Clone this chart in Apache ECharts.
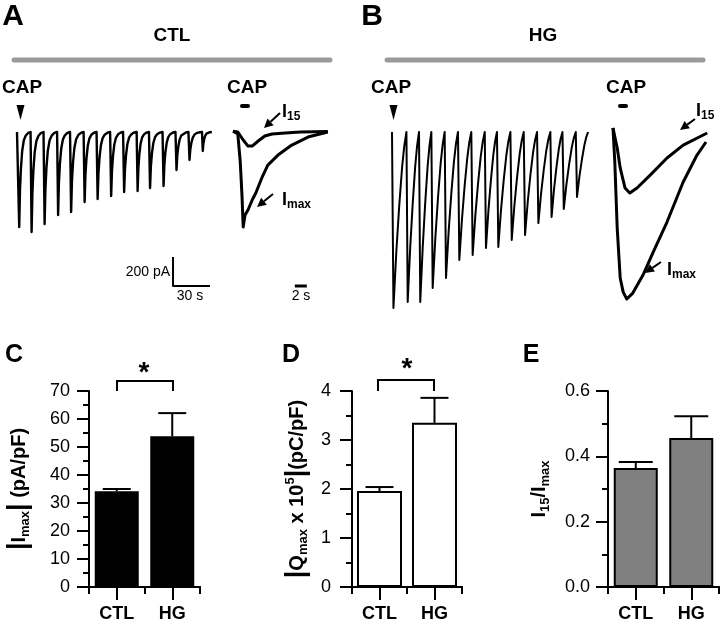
<!DOCTYPE html>
<html><head><meta charset="utf-8">
<script src="https://cdn.jsdelivr.net/npm/echarts@6/dist/echarts.min.js"></script>
<style>html,body{margin:0;padding:0;background:#fff}#c{width:722px;height:627px}</style>
</head><body><div id="c"></div>
<script>
const FONT = 'Liberation Sans, Arial, sans-serif';

// ---------- Panel A (CTL) spike train: onset times (s) and peak amplitudes (pA)
const ctlOnsets = [1, 11, 21.5, 32.5, 43, 54, 64.5, 75.5, 86, 97, 107, 118, 128.5, 139, 150];
const ctlEnd = 158;
const ctlPeaks = [655, 690, 634, 572, 552, 483, 462, 441, 414, 407, 386, 372, 262, 193, 131];
// spike waveform: [fraction of interval, fraction of peak]
const ctlSpikeShape = [[0,0],[0.08,1],[0.14,0.62],[0.22,0.38],[0.32,0.2],[0.45,0.09],[0.6,0.04],[0.8,0.01],[1,0]];
// inset traces [s, pA]
const ctlI15 = [[0,5],[0.8,0],[1.7,-55],[2.5,-97],[3.2,-97],[4.2,-62],[5.3,-28],[6.5,-14],[8.7,-7],[11.2,0],[15.8,3]];
const ctlImax = [[0,5],[0.8,-14],[1.2,-200],[1.5,-441],[1.7,-655],[2,-572],[2.5,-538],[3.2,-469],[3.8,-421],[4.8,-317],[5.8,-228],[7.5,-159],[9.8,-90],[12.5,-35],[15.8,0]];

// ---------- Panel B (HG)
const hgOnsets = [0, 11.7, 21.9, 31.9, 42.7, 53.5, 64.3, 75.2, 85.1, 96, 106.8, 117.6, 128.4, 138.2, 149];
const hgEnd = 159;
const hgPeaks = [1214, 1172, 1172, 1076, 1007, 883, 848, 800, 793, 745, 710, 628, 586, 531, 448];
const hgSpikeShape = [[0,0],[0.1,1],[0.3,0.68],[0.5,0.42],[0.7,0.2],[0.85,0.08],[1,0]];
const hgI15 = [[0,28],[0.7,-110],[1.2,-248],[2,-386],[2.8,-421],[4,-386],[6.2,-297],[9,-179],[11.7,-90],[15.7,-7]];
const hgImax = [[0,28],[0.3,-207],[0.7,-662],[1.2,-1007],[1.7,-1104],[2.3,-1152],[3.3,-1111],[5,-987],[6.7,-828],[9,-621],[11.7,-345],[14,-159],[15.5,-69]];

// scale bars
const scaleBarPA = 200, scaleBarS = 30, insetScaleBarS = 2;

// ---------- Panels C, D, E
const groups = ['CTL', 'HG'];
const imaxMean = [34.2, 53.8];
const imaxSem = [0.8, 8.3];
const qmaxMean = [1.96, 3.35];
const qmaxSem = [0.08, 0.51];
const ratioMean = [0.364, 0.456];
const ratioSem = [0.019, 0.067];
const imaxTicks = [0, 70, 10];
const qmaxTicks = [0, 4, 1];
const ratioTicks = [0, 0.6, 0.2];

function buildTrain(onsets, peaks, end, shape) {
  const pts = [[0, 0]];
  for (let i = 0; i < onsets.length; i++) {
    const t0 = onsets[i], t1 = i + 1 < onsets.length ? onsets[i + 1] : end, T = t1 - t0;
    shape.forEach(([f, g], k) => { if (k === 0 && i > 0) return; pts.push([t0 + f * T, -peaks[i] * g]); });
  }
  return pts;
}

const pxPerS = 37 / 30, pxPerPA = 29 / 200, insetPxPerS = 6;
const grid = [
  { left: 17, top: 103, width: 160 * pxPerS, height: 1400 * pxPerPA },
  { left: 233, top: 103, width: 16 * insetPxPerS, height: 1400 * pxPerPA },
  { left: 392, top: 103, width: 160 * pxPerS, height: 1500 * pxPerPA },
  { left: 613, top: 103, width: 16 * insetPxPerS, height: 1500 * pxPerPA },
  { left: 89, top: 391, width: 111, height: 196 },
  { left: 352, top: 391, width: 110, height: 196 },
  { left: 608, top: 391, width: 111, height: 196 }
];

const hid = (g, min, max) => ({ gridIndex: g, type: 'value', min, max, show: false });
const xAxis = [hid(0, 0, 160), hid(1, 0, 16), hid(2, 0, 160), hid(3, 0, 16)];
const yAxis = [hid(0, -1200, 200), hid(1, -1200, 200), hid(2, -1300, 200), hid(3, -1300, 200)];

const black = { color: '#000', width: 2 };
[4, 5, 6].forEach(g => {
  xAxis.push({ gridIndex: g, type: 'category', position: 'bottom', offset: 0, data: groups, axisLine: { show: true, lineStyle: black },
    axisTick: { show: true, interval: 0, length: 7, lineStyle: black }, axisLabel: { show: false } });
  xAxis.push({ gridIndex: g, type: 'category', position: 'bottom', offset: 0, data: groups, axisLine: { show: true, lineStyle: black },
    axisTick: { show: true, interval: 0, alignWithLabel: true, length: 13, lineStyle: black },
    axisLabel: { show: true, interval: 0, margin: 18, color: '#000', fontSize: 18, fontWeight: 'bold', fontFamily: FONT } });
});

const nameRich = {
  b: { fontSize: 20, fontWeight: 'bold', fontFamily: FONT, color: '#000', lineHeight: 26 },
  s: { fontSize: 13, fontWeight: 'bold', fontFamily: FONT, color: '#000', lineHeight: 17, verticalAlign: 'bottom' },
  p: { fontSize: 13, fontWeight: 'bold', fontFamily: FONT, color: '#000', lineHeight: 17, verticalAlign: 'top' },
  v: { fontSize: 27, fontWeight: 'bold', fontFamily: FONT, color: '#000', lineHeight: 26 }
};
function valAxis(g, ticks, margin, name, gap, fmt) {
  return { gridIndex: g, type: 'value', min: ticks[0], max: ticks[1], interval: ticks[2],
    axisLine: { show: true, lineStyle: black }, axisTick: { show: true, length: 12, lineStyle: black },
    minorTick: { show: true, splitNumber: 2, length: 6, lineStyle: black }, splitLine: { show: false },
    axisLabel: { color: '#000', fontSize: 18, fontFamily: FONT, margin, formatter: fmt },
    name, nameLocation: 'middle', nameRotate: 90, nameGap: gap, nameTextStyle: { rich: nameRich } };
}
yAxis.push(valAxis(4, imaxTicks, 19, '{v||}{b|I}{s|max}{v||}{b| (pA/pF)}', 57));
yAxis.push(valAxis(5, qmaxTicks, 21, '{v||}{b|Q}{s|max}{b| x 10}{p|5}{v||}{b|(pC/pF)}', 42));
yAxis.push(valAxis(6, ratioTicks, 18, '{b|I}{s|15}{b|/I}{s|max}', 56, v => v.toFixed(1)));

function line(xi, data, w) {
  return { type: 'line', xAxisIndex: xi, yAxisIndex: xi, data, showSymbol: false, symbol: 'none',
    lineStyle: { color: '#000', width: w, join: 'round' }, animation: false, silent: true };
}
function errRender(capHalf) {
  return function (params, api) {
    const i = api.value(0), m = api.value(1), e = api.value(2);
    const p0 = api.coord([i, m]), p1 = api.coord([i, m + e]);
    return { type: 'group', children: [
      { type: 'line', shape: { x1: p0[0], y1: p0[1], x2: p1[0], y2: p1[1] }, style: { stroke: '#000', lineWidth: 2 } },
      { type: 'line', shape: { x1: p1[0] - capHalf, y1: p1[1], x2: p1[0] + capHalf, y2: p1[1] }, style: { stroke: '#000', lineWidth: 2 } }
    ] };
  };
}
function barSet(xi, yi, means, sems, fill, capHalf, bw) {
  return [
    { type: 'bar', xAxisIndex: xi, yAxisIndex: yi, data: means, barWidth: bw, animation: false,
      itemStyle: { color: fill, borderColor: '#000', borderWidth: 2 } },
    { type: 'custom', xAxisIndex: xi, yAxisIndex: yi, data: means.map((m, i) => [i, m, sems[i]]),
      encode: { x: 0, y: 1 }, renderItem: errRender(capHalf), animation: false, z: 5 }
  ];
}

const sbT = 126.5, sbY = -1062;
const series = [
  line(0, buildTrain(ctlOnsets, ctlPeaks, ctlEnd, ctlSpikeShape), 2.4),
  line(0, [[sbT, sbY + scaleBarPA], [sbT, sbY], [sbT + scaleBarS, sbY]], 2),
  line(1, ctlI15, 3),
  line(1, ctlImax, 3),
  line(1, [[10.3, sbY], [10.3 + insetScaleBarS, sbY]], 3),
  line(2, buildTrain(hgOnsets, hgPeaks, hgEnd, hgSpikeShape), 2),
  line(3, hgI15, 3),
  line(3, hgImax, 3),
  ...barSet(5, 4, imaxMean, imaxSem, '#000', 14, 44),
  ...barSet(7, 5, qmaxMean, qmaxSem, '#fff', 14, 45),
  ...barSet(9, 6, ratioMean, ratioSem, '#808080', 17, 44)
];

// ---------- annotations
function txt(x, y, text, size, weight, align) {
  return { type: 'text', x, y, z: 100, style: { text, fontSize: size, fontWeight: weight, fontFamily: FONT, fill: '#000', align: align || 'center', verticalAlign: 'middle' } };
}
const subRich = {
  b: { fontSize: 18, fontWeight: 'bold', fontFamily: FONT, fill: '#000', lineHeight: 22 },
  s: { fontSize: 12, fontWeight: 'bold', fontFamily: FONT, fill: '#000', lineHeight: 16, verticalAlign: 'bottom' }
};
function rtxt(x, y, text) {
  return { type: 'text', x, y, z: 100, style: { text, rich: subRich, align: 'left', verticalAlign: 'middle' } };
}
function arrow(hx, hy, tx, ty) {
  const dx = hx - tx, dy = hy - ty, L = Math.hypot(dx, dy), ux = dx / L, uy = dy / L;
  const hl = 9, hw = 4.5, bx = hx - ux * hl, by = hy - uy * hl;
  return [
    { type: 'line', z: 100, shape: { x1: tx, y1: ty, x2: bx, y2: by }, style: { stroke: '#000', lineWidth: 2 } },
    { type: 'polygon', z: 100, shape: { points: [[hx, hy], [bx - uy * hw, by + ux * hw], [bx + uy * hw, by - ux * hw]] }, style: { fill: '#000' } }
  ];
}
const graphic = [
  txt(13, 17, 'A', 30, 'bold'),
  txt(172, 36, 'CTL', 19, 'bold'),
  { type: 'line', shape: { x1: 14, y1: 60, x2: 330, y2: 60 }, style: { stroke: '#9a9a9a', lineWidth: 5, lineCap: 'round' } },
  txt(22, 88, 'CAP', 19, 'bold'),
  { type: 'polygon', shape: { points: [[16.5, 105], [24.5, 105], [20.5, 120]] }, style: { fill: '#000' } },
  txt(247, 88, 'CAP', 19, 'bold'),
  { type: 'rect', shape: { x: 240, y: 104, width: 10, height: 4, r: 2 }, style: { fill: '#000' } },
  rtxt(282, 112, '{b|I}{s|15}'),
  rtxt(282, 200, '{b|I}{s|max}'),
  ...arrow(264, 128, 280, 113),
  ...arrow(257, 207, 273, 194),
  txt(170, 272, '200 pA', 14, 'normal', 'right'),
  txt(190, 296, '30 s', 14, 'normal'),
  txt(301, 296, '2 s', 14, 'normal'),

  txt(372, 17, 'B', 30, 'bold'),
  txt(543, 36, 'HG', 19, 'bold'),
  { type: 'line', shape: { x1: 387, y1: 60, x2: 703, y2: 60 }, style: { stroke: '#9a9a9a', lineWidth: 5, lineCap: 'round' } },
  txt(391, 88, 'CAP', 19, 'bold'),
  { type: 'polygon', shape: { points: [[389.5, 105], [397.5, 105], [393.5, 120]] }, style: { fill: '#000' } },
  txt(626, 88, 'CAP', 19, 'bold'),
  { type: 'rect', shape: { x: 618, y: 104, width: 10, height: 4, r: 2 }, style: { fill: '#000' } },
  rtxt(696, 111, '{b|I}{s|15}'),
  rtxt(667, 270, '{b|I}{s|max}'),
  ...arrow(680, 130, 695, 119),
  ...arrow(645, 273, 661, 262),

  txt(14, 355, 'C', 25, 'bold'),
  txt(291, 355, 'D', 25, 'bold'),
  txt(531, 355, 'E', 25, 'bold'),
  { type: 'polyline', shape: { points: [[117, 391], [117, 381], [173, 381], [173, 391]] }, style: { stroke: '#000', lineWidth: 2, fill: null } },
  { type: 'polyline', shape: { points: [[378, 391], [378, 380], [434, 380], [434, 391]] }, style: { stroke: '#000', lineWidth: 2, fill: null } },
  txt(144, 373, '*', 28, 'bold'),
  txt(407, 369, '*', 28, 'bold')
];

const chart = echarts.init(document.getElementById('c'), null, { renderer: 'canvas' });
chart.setOption({ animation: false, backgroundColor: '#fff', grid, xAxis, yAxis, series, graphic });
</script></body></html>
